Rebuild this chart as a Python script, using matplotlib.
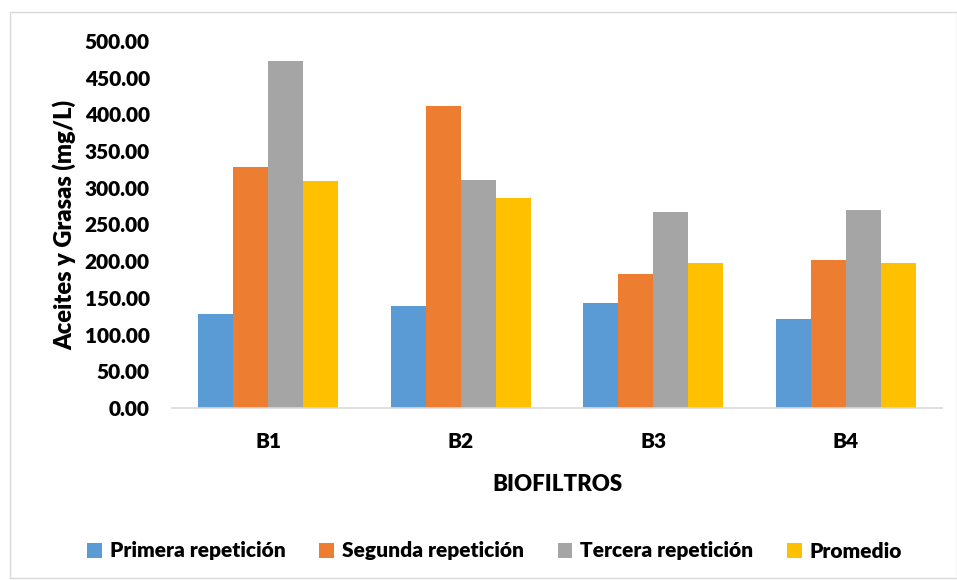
import matplotlib
matplotlib.use("Agg")
import matplotlib.pyplot as plt
import numpy as np
from matplotlib.patches import Rectangle

# data
biofiltros = ["B1", "B2", "B3", "B4"]
primera = [128.0, 138.5, 143.0, 121.0]
segunda = [328.5, 411.0, 183.0, 201.5]
tercera = [472.5, 310.5, 267.0, 270.0]
promedio = [309.5, 286.5, 198.0, 198.0]

series = ["Primera repetición", "Segunda repetición", "Tercera repetición", "Promedio"]
colors = ["#5B9BD5", "#ED7D31", "#A5A5A5", "#FFC000"]

plt.rcParams['font.family'] = ['Lato', 'DejaVu Sans']
plt.rcParams['font.weight'] = 'heavy'

fig = plt.figure(figsize=(9.57, 5.8), dpi=100)
ax = fig.add_axes([172/957, 1 - 408/580, 770/957, 367/580])

x = np.arange(len(biofiltros))
width = 0.182
for i, (vals, name, c) in enumerate(zip([primera, segunda, tercera, promedio], series, colors)):
    ax.bar(x + (i - 1.5) * width, vals, width, label=name, color=c)

ax.set_xlim(-0.5, len(biofiltros) - 0.5)
ax.set_ylim(0, 500)
ax.set_yticks(np.arange(0, 501, 50))
ax.set_yticklabels([f"{v:.2f}" for v in np.arange(0, 501, 50)], fontsize=15, fontweight='heavy')
ax.set_xticks(x)
ax.set_xticklabels(biofiltros, fontsize=15, fontweight='heavy')
ax.tick_params(axis='both', length=0)
ax.tick_params(axis='x', pad=17)
ax.tick_params(axis='y', pad=16)

for s in ['top', 'right', 'left']:
    ax.spines[s].set_visible(False)
ax.spines['bottom'].set_color('#D9D9D9')
ax.spines['bottom'].set_linewidth(1.2)

ax.set_xlabel("BIOFILTROS", fontsize=16, fontweight='heavy', labelpad=17)
ax.set_ylabel("Aceites y Grasas (mg/L)", fontsize=17, fontweight='heavy', labelpad=6)

fig.legend(loc='center', bbox_to_anchor=(0.517, 1 - 551/580), ncol=4, frameon=False,
           fontsize=15, handlelength=0.7, handleheight=0.7, columnspacing=1.6, handletextpad=0.4)

# outer chart border
fig.patches.append(Rectangle((10/957, 0.003), 0.99, 1 - 12/580 - 0.003, transform=fig.transFigure,
                             fill=False, edgecolor='#D9D9D9', linewidth=1))

fig.savefig("out.png", dpi=100)
